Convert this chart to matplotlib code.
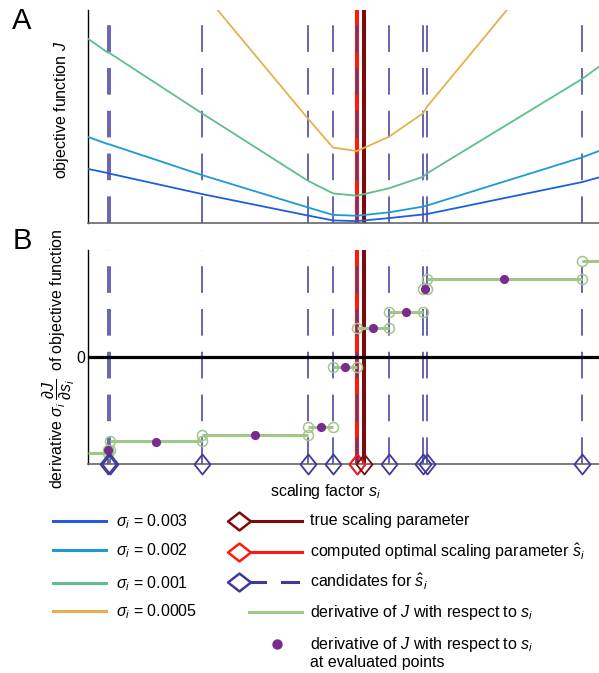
import matplotlib
matplotlib.use('Agg')
import matplotlib.pyplot as plt
from matplotlib.path import Path

plt.rcParams['font.family'] = ['Liberation Sans', 'DejaVu Sans']
plt.rcParams['mathtext.fontset'] = 'custom'
plt.rcParams['mathtext.rm'] = 'Liberation Sans'
plt.rcParams['mathtext.it'] = 'Liberation Sans:italic'
plt.rcParams['mathtext.bf'] = 'Liberation Sans:bold'
plt.rcParams['lines.scale_dashes'] = False

# scaling factor axis (arbitrary units), candidates for s_hat
cands = [3.82, 4.21, 22.31, 43.05, 47.95, 52.64, 58.90, 65.56, 66.34, 96.67]
s_true = 54.01
s_opt = 52.64

# objective function J evaluated at left edge, candidates, right edge
s_grid = [0.0, 3.82, 4.21, 22.31, 43.05, 47.95, 52.64, 58.90, 65.56, 66.34, 96.67, 100.0]
J_003 = [0.254, 0.235, 0.232, 0.136, 0.035, 0.012, 0.009, 0.023, 0.040, 0.042, 0.192, 0.214]
J_002 = [0.404, 0.371, 0.369, 0.225, 0.073, 0.038, 0.034, 0.050, 0.077, 0.082, 0.308, 0.338]
J_001 = [0.865, 0.801, 0.798, 0.515, 0.198, 0.139, 0.128, 0.163, 0.217, 0.233, 0.676, 0.734]
J_0005 = [1.897, 1.756, 1.742, 1.088, 0.490, 0.354, 0.338, 0.405, 0.515, 0.546, 1.427, 1.531]

# derivative (piecewise constant between s_grid points)
dJ = [-0.954, -0.93, -0.837, -0.777, -0.694, -0.094, 0.296, 0.456, 0.683, 0.780, 0.966]
eval_s = [4.0, 13.3, 32.7, 45.5, 50.3, 55.8, 62.2, 65.95, 81.5]
eval_dJ = [-0.93, -0.844, -0.777, -0.694, -0.094, 0.296, 0.456, 0.683, 0.780]

sigma_labels = ['0.003', '0.002', '0.001', '0.0005']
curve_colors = ['#1f5edc', '#1b9ad6', '#5cbf8c', '#e4b24c']

c_cand = '#3d3a9b'
c_red = '#ff1a10'
c_dark = '#7a0c0c'
c_green = '#a0c78a'
c_purple = '#7a2b8e'
dash = (0, (19.2, 11.6))

W, H = 599, 673
fig = plt.figure(figsize=(W / 100, H / 100), dpi=100)

# overlay for legend drawn in pixel units
lg = fig.add_axes([0, 0, 1, 1])
lg.set_xlim(0, W)
lg.set_ylim(H, 0)
lg.axis('off')

axA = fig.add_axes([88 / W, (H - 223) / H, 1 - 88 / W, 213 / H])
axB = fig.add_axes([88 / W, (H - 464) / H, 1 - 88 / W, 214 / H])

diamond_tall = Path([(0, 1), (0.8, 0), (0, -1), (-0.8, 0), (0, 1)],
                    [Path.MOVETO, Path.LINETO, Path.LINETO, Path.LINETO, Path.CLOSEPOLY])
diamond_wide = Path([(0, 0.78), (1, 0), (0, -0.78), (-1, 0), (0, 0.78)],
                    [Path.MOVETO, Path.LINETO, Path.LINETO, Path.LINETO, Path.CLOSEPOLY])

for ax in (axA, axB):
    ax.set_xlim(0, 100)
    ax.axvline(s_opt, color=c_red, lw=2.9, zorder=1)
    ax.axvline(s_true, color=c_dark, lw=2.9, zorder=1)
    for c in cands:
        ax.axvline(c, color=c_cand, lw=1.1, linestyle=dash, zorder=2)
    for sp in ('top', 'right'):
        ax.spines[sp].set_visible(False)
    ax.spines['left'].set_color('black')
    ax.spines['bottom'].set_color('#666666')
    ax.spines['left'].set_linewidth(1.0)
    ax.spines['bottom'].set_linewidth(1.2)
    ax.set_xticks([])

# panel A
for J, col in zip([J_003, J_002, J_001, J_0005], curve_colors):
    axA.plot(s_grid, J, color=col, lw=1.3, zorder=3)
axA.set_ylim(0, 1)
axA.set_yticks([])
axA.set_ylabel('objective function $J$', fontsize=11.5)
axA.yaxis.set_label_coords(-0.033, 0.53)

# panel B
axB.set_ylim(-1.067, 1.073)
axB.axhline(0, color='black', lw=2.3, zorder=3)
axB.hlines(dJ, s_grid[:-1], s_grid[1:], color=c_green, lw=2.2, zorder=4)
for i, v in enumerate(dJ):
    ends = []
    if i > 0:
        ends.append(s_grid[i])
    if i < len(dJ) - 1:
        ends.append(s_grid[i + 1])
    axB.plot(ends, [v] * len(ends), 'o', ms=7.2, mfc='none', mec=c_green,
             mew=1.1, zorder=5)
axB.plot(eval_s, eval_dJ, 'o', ms=6.6, color=c_purple, mec='none', zorder=6)

tr = axB.get_xaxis_transform()
axB.plot(cands, [0] * len(cands), linestyle='none', marker=diamond_tall, ms=14.4,
         mfc='none', mec=c_cand, mew=1.3, transform=tr, clip_on=False, zorder=7)
axB.plot([s_opt], [0], linestyle='none', marker=diamond_tall, ms=14.4,
         mfc='none', mec=c_red, mew=1.3, transform=tr, clip_on=False, zorder=7)
axB.plot([s_true], [0], linestyle='none', marker=diamond_tall, ms=14.4,
         mfc='none', mec=c_dark, mew=1.3, transform=tr, clip_on=False, zorder=7)

axB.set_yticks([0])
axB.set_yticklabels(['0'], fontsize=11.5)
axB.tick_params(axis='y', length=0, pad=2)
axB.set_ylabel(r'derivative $\sigma_i\;\dfrac{\partial J}{\partial s_i}\;$ of objective function',
               fontsize=11.5)
axB.yaxis.set_label_coords(-0.021, 0.49)
axB.set_xlabel('scaling factor $s_i$', fontsize=11.5)
axB.xaxis.set_label_coords(0.466, -0.085)

fig.text(22 / W, 1 - 21 / H, 'A', fontsize=21, ha='center', va='center')
fig.text(22 / W, 1 - 241 / H, 'B', fontsize=21, ha='center', va='center')

# legend, left column
rows_left = [521, 550, 583, 611]
for y, col, lab in zip(rows_left, curve_colors, sigma_labels):
    lg.plot([52.7, 106], [y, y], color=col, lw=2.2)
    lg.text(116, y + 1, r'$\sigma_i$ = ' + lab, fontsize=11.5, va='center')

# legend, right column
fs = 11.5
lg.plot([239, 301.7], [521, 521], color=c_dark, lw=2.2)
lg.plot([239], [521], linestyle='none', marker=diamond_wide, ms=16.5, mfc='white',
        mec=c_dark, mew=1.8)
lg.text(310, 521, 'true scaling parameter', fontsize=fs, va='center')

lg.plot([239, 301.7], [552, 552], color=c_red, lw=2.2)
lg.plot([239], [552], linestyle='none', marker=diamond_wide, ms=16.5, mfc='white',
        mec=c_red, mew=1.8)
lg.text(310, 552, r'computed optimal scaling parameter $\hat{s}_i$', fontsize=fs, va='center')

lg.plot([239, 265], [582.3, 582.3], color=c_cand, lw=2.2)
lg.plot([281.7, 297.7], [582.3, 582.3], color=c_cand, lw=2.2)
lg.plot([239], [582.3], linestyle='none', marker=diamond_wide, ms=16.5, mfc='white',
        mec=c_cand, mew=1.8)
lg.text(310, 582.3, r'candidates for $\hat{s}_i$', fontsize=fs, va='center')

lg.plot([249.3, 301.7], [612.3, 612.3], color=c_green, lw=2.2)
lg.text(310, 612.3, 'derivative of $J$ with respect to $s_i$', fontsize=fs, va='center')

lg.plot([276.7], [644.3], 'o', ms=7.5, color=c_purple, mec='none')
lg.text(310, 644.3, 'derivative of $J$ with respect to $s_i$', fontsize=fs, va='center')
lg.text(310, 662, 'at evaluated points', fontsize=fs, va='center')

fig.savefig('out.png', dpi=100)
